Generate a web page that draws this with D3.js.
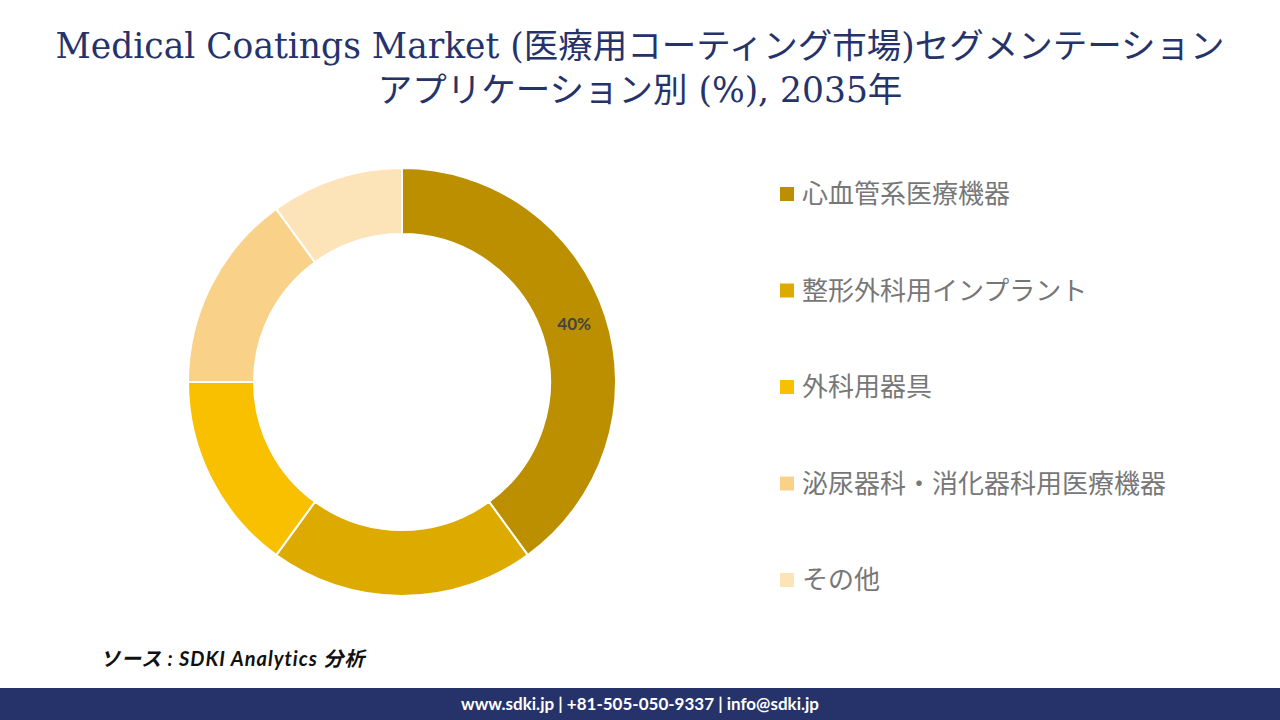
<!DOCTYPE html>
<html><head><meta charset="utf-8">
<script src="https://cdn.jsdelivr.net/npm/d3@7"></script>
<style>body{margin:0;background:#fff}</style>
</head><body>
<svg id="chart" width="1280" height="720"></svg>
<script>
var categories = ['心血管系医療機器', '整形外科用インプラント', '外科用器具', '泌尿器科・消化器科用医療機器', 'その他'];
var values = [40, 20, 15, 15, 10];
var colors = ['#BC8F00', '#DDAA00', '#F9C000', '#FAD189', '#FDE3B8'];

var svg = d3.select('#chart');
var title = ['Medical Coatings Market (医療用コーティング市場)セグメンテーション', 'アプリケーション別 (%), 2035年'];
svg.selectAll('.title').data(title).enter().append('text')
    .attr('x', 640).attr('y', function(d, i) { return 58 + i * 44; })
    .attr('text-anchor', 'middle')
    .attr('font-family', '"DejaVu Serif", "Noto Sans CJK JP", serif')
    .attr('font-size', 34.5).attr('fill', '#26336b')
    .text(function(d) { return d; });

var pie = d3.pie().sort(null).value(function(d) { return d; });
var arc = d3.arc().innerRadius(148).outerRadius(214);
var g = svg.append('g').attr('transform', 'translate(402,382)');
var arcs = pie(values);
g.selectAll('path').data(arcs).enter().append('path')
    .attr('d', arc).attr('fill', function(d, i) { return colors[i]; })
    .attr('stroke', '#fff').attr('stroke-width', 2);
var labelArc = d3.arc().innerRadius(181).outerRadius(181);
g.append('text')
    .attr('transform', 'translate(' + labelArc.centroid(arcs[0]) + ')')
    .attr('text-anchor', 'middle').attr('dominant-baseline', 'middle')
    .attr('font-family', 'Lato, sans-serif').attr('font-weight', 'bold')
    .attr('font-size', 17).attr('fill', '#444')
    .text(values[0] + '%');

var y = d3.scalePoint().domain(categories).range([194, 580]);
var leg = svg.selectAll('.leg').data(categories).enter().append('g')
    .attr('transform', function(d) { return 'translate(780,' + y(d) + ')'; });
leg.append('rect').attr('x', 0).attr('y', -7).attr('width', 14).attr('height', 14)
    .attr('fill', function(d, i) { return colors[i]; });
leg.append('text').attr('x', 22).attr('dy', '0.35em')
    .attr('font-family', '"Noto Sans CJK JP", sans-serif').attr('font-size', 26)
    .attr('fill', '#777').text(function(d) { return d; });

svg.append('text').attr('x', 100).attr('y', 666)
    .attr('font-family', 'Lato, "Noto Sans CJK JP", sans-serif')
    .attr('font-style', 'italic').attr('font-weight', 'bold').attr('font-size', 20)
    .attr('letter-spacing', 1)
    .attr('fill', '#111').text('ソース : SDKI Analytics 分析');

svg.append('rect').attr('x', 0).attr('y', 688).attr('width', 1280).attr('height', 32).attr('fill', '#26336b');
svg.append('text').attr('x', 640).attr('y', 710).attr('text-anchor', 'middle')
    .attr('font-family', 'Lato, sans-serif').attr('font-weight', 'bold').attr('font-size', 17)
    .attr('fill', '#fff').text('www.sdki.jp | +81-505-050-9337 | info@sdki.jp');
</script>
</body></html>
